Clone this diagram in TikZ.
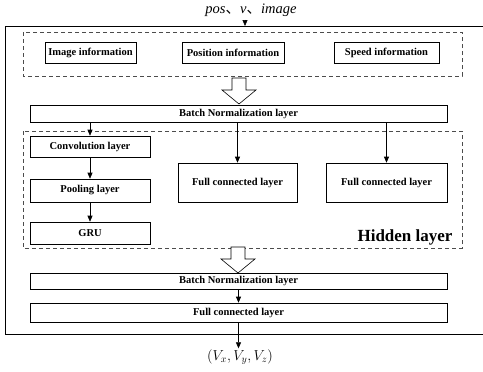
\documentclass[tikz,border=0pt]{standalone}
\usepackage{fontspec}
\setmainfont{Liberation Serif}
\newfontfamily\cjk{Noto Sans CJK SC}
\usetikzlibrary{positioning, arrows.meta}

\begin{document}
\begin{tikzpicture}[
    x=1pt, y=-1pt,
    font=\fontsize{10.5}{12}\selectfont\bfseries,
    % Styles
    layerbox/.style={rectangle, draw, line width=0.6pt, inner sep=0pt, align=center},
    groupbox/.style={rectangle, draw=black!70, line width=0.6pt, dash pattern=on 4pt off 3pt},
    arrow/.style={-{Triangle[length=6pt, width=5pt]}, line width=0.6pt},
    bigarrow/.style={draw, line width=0.6pt, fill=white}
]
\useasboundingbox (0,0) rectangle (483,372);

% ==================== INPUT ====================
\node[font=\fontsize{14.5}{16}\selectfont\itshape] (title) at (251, 10) {pos{\cjk 、}v{\cjk 、}image};
\coordinate (in) at (245, 26);

% outer frame (right side runs past the picture)
\draw[line width=0.6pt] (495, 26) -- (5, 26) -- (5, 334) -- (495, 334);

\draw[arrow] (title.south -| in) -- (in);

\draw[groupbox] (23, 32) rectangle (462, 76);
\node[layerbox, minimum width=91pt, minimum height=21pt] (img) at (90.5, 52.5) {Image information};
\node[layerbox, minimum width=102pt, minimum height=21pt] (pos) at (233, 52.5) {Position information};
\node[layerbox, minimum width=105pt, minimum height=21pt] (spd) at (386.5, 52.5) {Speed information};

% block arrow down
\coordinate (ba1) at (239, 78);
\draw[bigarrow] (ba1) ++(-7,0) -- ++(14,0) -- ++(0,12) -- ++(10,0) -- ++(-17,14) -- ++(-17,-14) -- ++(10,0) -- cycle;

\node[layerbox, minimum width=417pt, minimum height=17pt] (bn1) at (238.5, 113.5) {Batch Normalization layer};

% ==================== HIDDEN LAYER ====================
\draw[groupbox] (23, 131) rectangle (462, 248);
\node[font=\fontsize{17}{19}\selectfont\bfseries, anchor=base east] (hidden) at (456, 241) {Hidden layer};

\node[layerbox, minimum width=120pt, minimum height=21pt] (conv) at (90, 146.5) {Convolution layer};
\node[layerbox, minimum width=120pt, minimum height=23pt] (pool) at (90, 190.5) {Pooling layer};
\node[layerbox, minimum width=120pt, minimum height=22pt] (gru) at (90, 233) {GRU};
\node[layerbox, minimum width=119pt, minimum height=39pt] (fc1) at (237.5, 182.5) {Full connected layer};
\node[layerbox, minimum width=121pt, minimum height=39pt] (fc2) at (386.5, 182.5) {Full connected layer};

\draw[arrow] (bn1.south -| conv.north) -- (conv.north);
\draw[arrow] (bn1.south -| fc1.north) -- (fc1.north);
\draw[arrow] (bn1.south -| fc2.north) -- (fc2.north);
\draw[arrow] (conv) -- (pool);
\draw[arrow] (pool) -- (gru);

% block arrow down
\coordinate (ba2) at (238, 247);
\draw[bigarrow] (ba2) ++(-7,0) -- ++(14,0) -- ++(0,12) -- ++(10,0) -- ++(-17,14) -- ++(-17,-14) -- ++(10,0) -- cycle;

% ==================== OUTPUT ====================
\node[layerbox, minimum width=417pt, minimum height=16pt] (bn2) at (238.5, 281) {Batch Normalization layer};
\node[layerbox, minimum width=417pt, minimum height=19pt] (fc3) at (238.5, 312.5) {Full connected layer};
\node[font=\fontsize{14}{16}\selectfont, inner sep=1pt] (out) at (240, 357) {$\bigl(V_x,V_y,V_z\bigr)$};

\draw[arrow] (bn2.south -| fc3.north) -- (fc3.north);
\draw[arrow] (fc3.south) -- (out.north -| fc3.south);

\end{tikzpicture}
\end{document}
